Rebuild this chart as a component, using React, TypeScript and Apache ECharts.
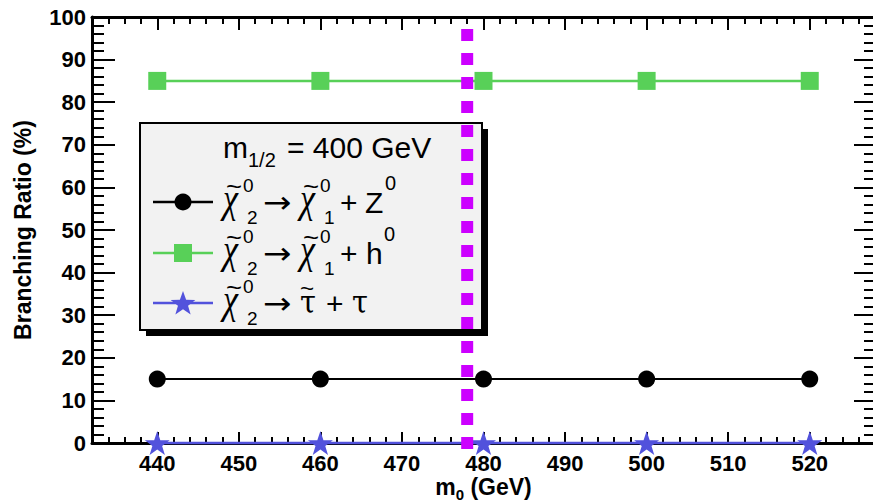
import React, { useEffect, useRef } from "react";
import * as echarts from "echarts";

// ---- data ----
const m0Values = [440, 460, 480, 500, 520];
const brChi1Z = [15, 15, 15, 15, 15];
const brChi1h = [85, 85, 85, 85, 85];
const brStauTau = [0, 0, 0, 0, 0];
const boundaryM0 = 478;
const boundaryExtent = [-1.4, 100];
const xRange = [432, 528];
const yRange = [0, 100];

const FONT = "'Liberation Sans', Arial, Helvetica, sans-serif";
const GREEK = "'DejaVu Serif', 'Liberation Serif', serif";
const CHIF = "'Liberation Serif', 'DejaVu Serif', serif";
const ARROWF = "'DejaVu Sans', sans-serif";
const GREEN = "#58d058";
const BLUE = "#5252dc";
const MAGENTA = "#cc00ff";

function zip(xs: number[], ys: number[]) {
  return xs.map((x, i) => [x, ys[i]]);
}

function txt(text: string, x: number, y: number, size: number, extra: any = {}, family: string = FONT, fontStyle: string = "normal") {
  return {
    type: "text",
    x,
    y,
    z: 5,
    silent: true,
    ...extra,
    style: {
      text,
      fill: "#000",
      fontSize: size,
      fontFamily: family,
      fontStyle,
      align: "left",
      verticalAlign: "middle",
    },
  };
}

function starPoints(cx: number, cy: number, R: number, r: number) {
  const pts: number[][] = [];
  for (let i = 0; i < 10; i++) {
    const rad = i % 2 === 0 ? R : r;
    const a = -Math.PI / 2 + (i * Math.PI) / 5;
    pts.push([cx + rad * Math.cos(a), cy + rad * Math.sin(a)]);
  }
  return pts;
}

const STAR_PATH =
  "path://M50,0 L61.8,35.1 L98.1,35.1 L68.8,56.8 L79.4,91 L50,70 L20.6,91 L31.2,56.8 L1.9,35.1 L38.2,35.1 Z";

function chiWithTilde(els: any[], x: number, yc: number, sub: string) {
  els.push(txt("χ", x - 2, yc - 3, 40, { scaleX: 0.85 }, CHIF, "italic"));
  els.push(txt("~", x + 1, yc - 15, 24, { scaleX: 1.15 }));
  els.push(txt("0", x + 18, yc - 17, 19));
  els.push(txt(sub, x + 22, yc + 15, 19));
}

function buildLegend() {
  const rowsY = [202, 253, 303];
  const els: any[] = [];
  // shadow and box
  els.push({ type: "rect", z: 3, silent: true, shape: { x: 146, y: 129, width: 342, height: 207 }, style: { fill: "#000" } });
  els.push({ type: "rect", z: 4, silent: true, shape: { x: 140, y: 123, width: 342, height: 207 }, style: { fill: "#f2f2f2", stroke: "#000", lineWidth: 2 } });
  // title
  els.push(txt("m", 223, 147, 30));
  els.push(txt("1/2", 248, 160, 20));
  els.push(txt("= 400 GeV", 287, 147, 30));
  // icons
  const colors = ["#000", GREEN, BLUE];
  rowsY.forEach((yc, i) => {
    els.push({ type: "line", z: 5, silent: true, shape: { x1: 153, y1: yc, x2: 213, y2: yc }, style: { stroke: colors[i], lineWidth: 2.5 } });
  });
  els.push({ type: "circle", z: 6, silent: true, shape: { cx: 183, cy: rowsY[0], r: 8.5 }, style: { fill: "#000" } });
  els.push({ type: "rect", z: 6, silent: true, shape: { x: 174, y: rowsY[1] - 9, width: 18, height: 18 }, style: { fill: GREEN } });
  els.push({ type: "polygon", z: 6, silent: true, shape: { points: starPoints(183, rowsY[2] + 1, 13, 5.3) }, style: { fill: BLUE } });

  rowsY.forEach((yc, i) => {
    chiWithTilde(els, 225, yc, "2");
    els.push(txt("→", 263, yc + 1, 34, { scaleY: 0.9 }, ARROWF));
    if (i < 2) {
      chiWithTilde(els, 302, yc, "1");
      els.push(txt("+", 340, yc, 30));
      if (i === 0) {
        els.push(txt("Z", 365, yc, 30));
        els.push(txt("0", 385, yc - 19, 20));
      } else {
        els.push(txt("h", 366, yc, 30));
        els.push(txt("0", 384, yc - 19, 20));
      }
    } else {
      els.push(txt("τ", 300, yc - 1, 32, { scaleX: 0.9 }, GREEK));
      els.push(txt("~", 300, yc - 15, 22, { scaleX: 1.1 }));
      els.push(txt("+", 326, yc, 30));
      els.push(txt("τ", 352, yc - 1, 32, { scaleX: 0.9 }, GREEK));
    }
  });
  return els;
}

export default function App() {
  const ref = useRef<HTMLDivElement>(null);
  useEffect(() => {
    if (!ref.current) return;
    const chart = echarts.init(ref.current, null, { renderer: "svg" });
    const axisLineStyle = { color: "#000", width: 3 };
    const tickLineStyle = { color: "#000", width: 2 };
    const commonX = { type: "value", min: xRange[0], max: xRange[1], splitLine: { show: false } };
    const commonY = { type: "value", min: yRange[0], max: yRange[1], interval: 10, splitLine: { show: false } };
    const option: any = {
      animation: false,
      backgroundColor: "#fff",
      grid: { left: 92, top: 17, right: -2, bottom: 59, containLabel: false, outerBoundsMode: "none" },
      xAxis: [
        {
          ...commonX,
          position: "bottom",
          interval: 2,
          axisLine: { show: true, onZero: false, lineStyle: axisLineStyle },
          axisTick: { show: true, inside: true, length: 6, lineStyle: tickLineStyle },
          axisLabel: { show: false },
        },
        {
          ...commonX,
          position: "bottom",
          splitNumber: 10,
          axisLine: { show: false, onZero: false },
          axisTick: { show: true, inside: true, length: 11, lineStyle: tickLineStyle },
          axisLabel: {
            show: true,
            showMinLabel: false,
            showMaxLabel: false,
            margin: 13,
            lineHeight: 14,
            color: "#000",
            fontSize: 22,
            fontWeight: "bold",
            fontFamily: FONT,
            formatter: (v: number) => (v % 10 === 0 ? String(v) : ""),
          },
          name: "{m|m}{s|0}{m| (GeV)}",
          nameLocation: "middle",
          nameGap: 29,
          nameMoveOverlap: false,
          nameTextStyle: {
            rich: {
              m: { fontSize: 23, fontWeight: "bold", fontFamily: FONT, color: "#000", lineHeight: 20 },
              s: { fontSize: 15, fontWeight: "bold", fontFamily: FONT, color: "#000", lineHeight: 30, verticalAlign: "bottom" },
            },
          },
        },
        {
          ...commonX,
          position: "top",
          interval: 2,
          axisLine: { show: true, onZero: false, lineStyle: axisLineStyle },
          axisTick: { show: true, inside: true, length: 7, lineStyle: tickLineStyle },
          axisLabel: { show: false },
        },
        {
          ...commonX,
          position: "top",
          splitNumber: 10,
          axisLine: { show: false, onZero: false },
          axisTick: { show: true, inside: true, length: 13, lineStyle: tickLineStyle },
          axisLabel: { show: false },
        },
      ],
      yAxis: [
        {
          ...commonY,
          position: "left",
          axisLine: { show: true, onZero: false, lineStyle: axisLineStyle },
          axisTick: { show: true, inside: true, length: 23, lineStyle: tickLineStyle },
          minorTick: { show: true, splitNumber: 5, length: 12, lineStyle: tickLineStyle },
          axisLabel: { show: true, margin: 6, color: "#000", fontSize: 22, fontWeight: "bold", fontFamily: FONT },
          name: "Branching Ratio (%)",
          nameLocation: "middle",
          nameGap: 58,
          nameTextStyle: { fontSize: 23, fontWeight: "bold", fontFamily: FONT, color: "#000" },
        },
        {
          ...commonY,
          position: "right",
          axisLine: { show: true, onZero: false, lineStyle: axisLineStyle },
          axisTick: { show: true, inside: true, length: 21, lineStyle: tickLineStyle },
          minorTick: { show: true, splitNumber: 5, length: 11, lineStyle: tickLineStyle },
          axisLabel: { show: false },
        },
      ],
      graphic: { elements: buildLegend() },
      series: [
        {
          type: "line",
          name: "chi1 Z",
          xAxisIndex: 0,
          yAxisIndex: 0,
          data: zip(m0Values, brChi1Z),
          symbol: "circle",
          symbolSize: 17,
          lineStyle: { color: "#000", width: 2 },
          itemStyle: { color: "#000" },
          z: 3,
        },
        {
          type: "line",
          name: "chi1 h",
          xAxisIndex: 0,
          yAxisIndex: 0,
          data: zip(m0Values, brChi1h),
          symbol: "rect",
          symbolSize: 18,
          lineStyle: { color: GREEN, width: 2.5 },
          itemStyle: { color: GREEN },
          z: 3,
        },
        {
          type: "line",
          name: "stau tau",
          xAxisIndex: 0,
          yAxisIndex: 0,
          data: zip(m0Values, brStauTau),
          symbol: STAR_PATH,
          symbolSize: [25, 24],
          clip: false,
          lineStyle: { color: BLUE, width: 2.5 },
          itemStyle: { color: BLUE },
          z: 3,
        },
        {
          type: "line",
          name: "boundary",
          xAxisIndex: 0,
          yAxisIndex: 0,
          data: boundaryExtent.map((y) => [boundaryM0, y]),
          showSymbol: false,
          symbol: "none",
          clip: false,
          silent: true,
          lineStyle: { color: MAGENTA, width: 12, type: [12, 12], cap: "butt" },
          z: 10,
        },
      ],
    };
    chart.setOption(option);
    return () => chart.dispose();
  }, []);
  return (
    <div
      ref={ref}
      style={{ position: "absolute", left: 0, top: 0, width: 873, height: 502 }}
    />
  );
}
